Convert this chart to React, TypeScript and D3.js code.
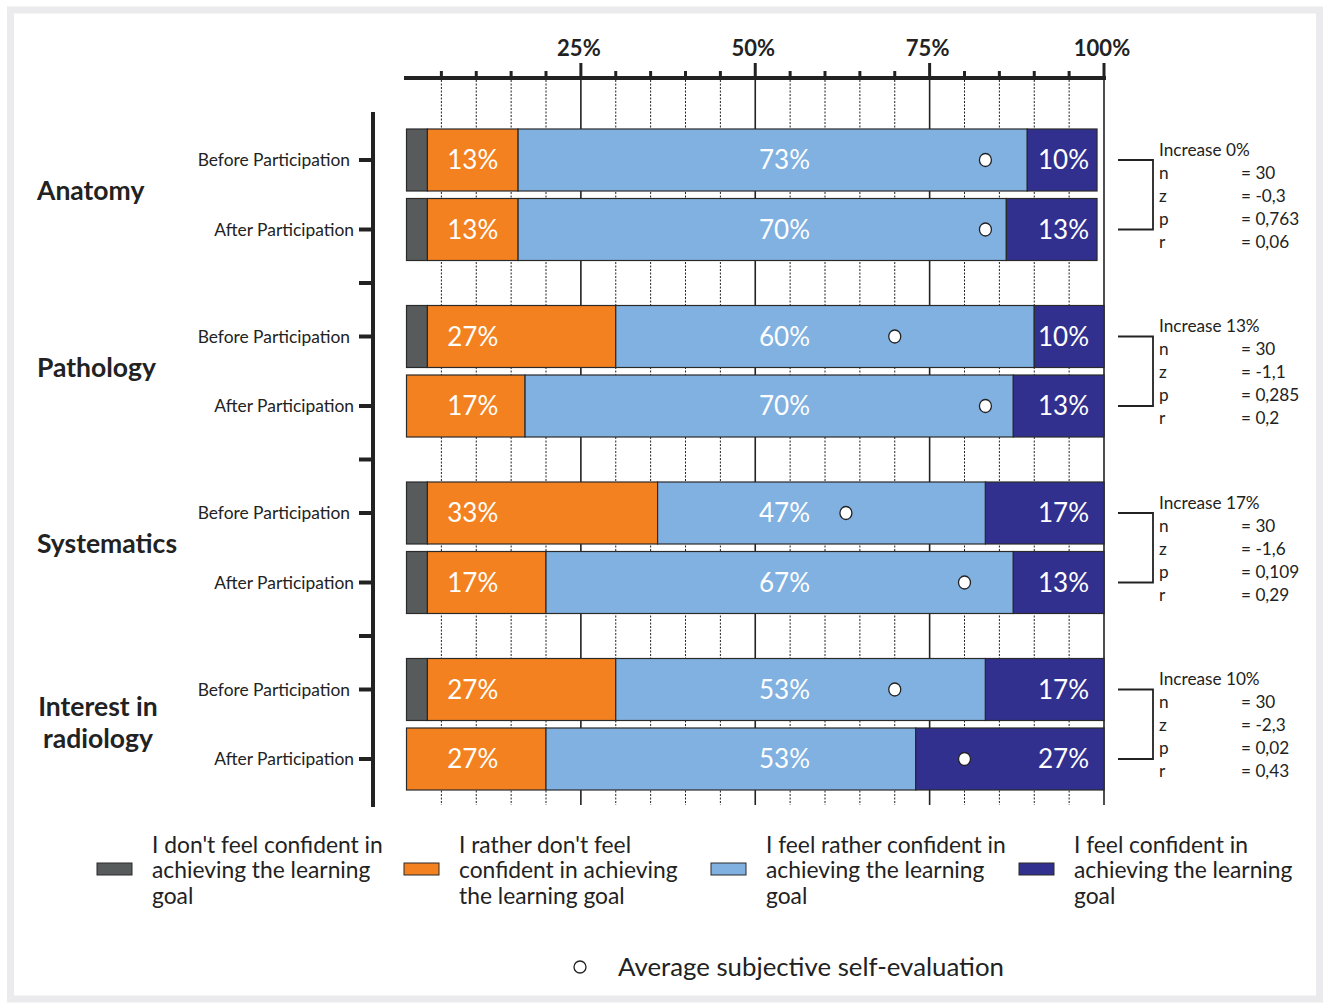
import React from "react";
import * as d3 from "d3";

const groups = ["Anatomy", "Pathology", "Systematics", "Interest in radiology"];
const groupLabelLines = [["Anatomy"], ["Pathology"], ["Systematics"], ["Interest in", "radiology"]];
const phases = ["Before Participation", "After Participation"];

// one entry per row: Anatomy before, Anatomy after, Pathology before, ...
const notConfident = [3, 3, 3, 0, 3, 3, 3, 0];
const ratherNot = [13, 13, 27, 17, 33, 17, 27, 20];
const ratherConfident = [73, 70, 60, 70, 47, 67, 53, 53];
const confident = [10, 13, 10, 13, 17, 13, 17, 27];

const ratherNotLabels = ["13%", "13%", "27%", "17%", "33%", "17%", "27%", "27%"];
const ratherConfidentLabels = ["73%", "70%", "60%", "70%", "47%", "67%", "53%", "53%"];
const confidentLabels = ["10%", "13%", "10%", "13%", "17%", "13%", "17%", "27%"];

const averages = [83, 83, 70, 83, 63, 80, 70, 80];

const increase = ["0%", "13%", "17%", "10%"];
const statN = ["30", "30", "30", "30"];
const statZ = ["-0,3", "-1,1", "-1,6", "-2,3"];
const statP = ["0,763", "0,285", "0,109", "0,02"];
const statR = ["0,06", "0,2", "0,29", "0,43"];

const tickValues = [25, 50, 75, 100];
const minorTicks = d3.range(5, 100, 5).filter((v) => v % 25 !== 0);

const legendItems = [
  ["I don't feel confident in", "achieving the learning", "goal"],
  ["I rather don't feel", "confident in achieving", "the learning goal"],
  ["I feel rather confident in", "achieving the learning", "goal"],
  ["I feel confident in", "achieving the learning", "goal"],
];

const colors = ["#575b5c", "#f48120", "#80b1e0", "#32308f"];
const FONT = "Lato, 'Open Sans', sans-serif";

export default function App() {
  const W = 1325, H = 1004;
  const x = d3.scaleLinear().domain([0, 100]).range([406.5, 1104]);
  const gy = d3.scaleBand<string>().domain(groups).range([106.5, 812.5]);
  const py = d3.scaleBand<string>().domain(phases).range([22.5, 154]).paddingInner(0.108);
  const series = [notConfident, ratherNot, ratherConfident, confident];

  const rows = groups.flatMap((g, gi) =>
    phases.map((p, pi) => ({ g, gi, p, pi, idx: gi * 2 + pi, y: (gy(g) as number) + (py(p) as number) }))
  );
  const bh = py.bandwidth();

  return (
    <svg width={W} height={H} style={{ position: "absolute", left: 0, top: 0, background: "#fff" }} fontFamily={FONT}>
      <rect x={10.5} y={10} width={1309} height={989} fill="none" stroke="#ebebed" strokeWidth={7} />

      {/* gridlines */}
      {minorTicks.map((v) => (
        <line key={"gm" + v} x1={x(v)} x2={x(v)} y1={80} y2={805} stroke="#222" strokeWidth={1} strokeDasharray="2,1.5" />
      ))}
      {tickValues.map((v) => (
        <line key={"gM" + v} x1={x(v)} x2={x(v)} y1={80} y2={805} stroke="#222" strokeWidth={1.6} />
      ))}

      {/* top axis */}
      <line x1={404} x2={x(100) + 2} y1={78} y2={78} stroke="#222" strokeWidth={4} />
      {minorTicks.map((v) => (
        <line key={"tm" + v} x1={x(v)} x2={x(v)} y1={78} y2={71} stroke="#222" strokeWidth={3} />
      ))}
      {tickValues.map((v) => (
        <g key={"tM" + v}>
          <line x1={x(v)} x2={x(v)} y1={78} y2={63} stroke="#222" strokeWidth={3} />
          <text x={x(v) - 2} y={56} textAnchor="middle" fontSize={22} fontWeight={700} fill="#222">{v}%</text>
        </g>
      ))}

      {/* bars */}
      {rows.map((r) => {
        let acc = 0;
        return (
          <g key={"row" + r.idx}>
            {series.map((s, si) => {
              const v = s[r.idx];
              const x0 = acc;
              acc += v;
              if (v <= 0) return null;
              return (
                <rect key={si} x={x(x0)} y={r.y} width={x(x0 + v) - x(x0)} height={bh}
                  fill={colors[si]} stroke="#2a2a2a" strokeWidth={1.2} />
              );
            })}
            <text x={x(9.5)} y={r.y + bh / 2} dy="0.36em" textAnchor="middle" fontSize={26} fill="#fff">{ratherNotLabels[r.idx]}</text>
            <text x={x(54.2)} y={r.y + bh / 2} dy="0.36em" textAnchor="middle" fontSize={26} fill="#fff">{ratherConfidentLabels[r.idx]}</text>
            <text x={x(94.2)} y={r.y + bh / 2} dy="0.36em" textAnchor="middle" fontSize={26} fill="#fff">{confidentLabels[r.idx]}</text>
            <ellipse cx={x(averages[r.idx])} cy={r.y + bh / 2} rx={6} ry={6.5} fill="#fff" stroke="#222" strokeWidth={1.3} />
            {/* left tick + phase label */}
            <line x1={359} x2={373} y1={r.y + bh / 2} y2={r.y + bh / 2} stroke="#222" strokeWidth={4} />
            <text x={r.pi === 0 ? 350 : 354} y={r.y + bh / 2} dy="0.35em" textAnchor="end" fontSize={17.4} fill="#222">{r.p}</text>
          </g>
        );
      })}

      {/* left axis */}
      <line x1={373} x2={373} y1={112} y2={807} stroke="#222" strokeWidth={4} />
      {groups.slice(1).map((g) => (
        <line key={"sep" + g} x1={359} x2={373} y1={gy(g) as number} y2={gy(g) as number} stroke="#222" strokeWidth={4} />
      ))}

      {/* group labels */}
      {groups.map((g, gi) => {
        const lines = groupLabelLines[gi];
        const cy = (gy(g) as number) + gy.bandwidth() / 2;
        return lines.length === 1 ? (
          <text key={g} x={37} y={cy - 4} dy="0.35em" fontSize={26.5} fontWeight={700} fill="#222">{lines[0]}</text>
        ) : (
          <text key={g} x={98} y={cy - 3} textAnchor="middle" fontSize={26.5} fontWeight={700} fill="#222">
            {lines.map((l, li) => (
              <tspan key={li} x={98} dy={li === 0 ? "-0.2em" : "1.2em"}>{l}</tspan>
            ))}
          </text>
        );
      })}

      {/* stats */}
      {groups.map((g, gi) => {
        const y1 = (gy(g) as number) + (py(phases[0]) as number) + bh / 2;
        const y2 = (gy(g) as number) + (py(phases[1]) as number) + bh / 2;
        const vals = [statN[gi], statZ[gi], statP[gi], statR[gi]];
        const keys = ["n", "z", "p", "r"];
        return (
          <g key={"st" + g} fontSize={17.2} fill="#222">
            <path d={`M1118,${y1}H1153V${y2}H1118`} fill="none" stroke="#222" strokeWidth={1.8} />
            <text x={1159} y={y1 - 10.5} dy="0.35em">Increase {increase[gi]}</text>
            {keys.map((k, ki) => (
              <g key={k}>
                <text x={1159} y={y1 + 12.5 + ki * 23} dy="0.35em">{k}</text>
                <text x={1241} y={y1 + 12.5 + ki * 23} dy="0.35em">= {vals[ki]}</text>
              </g>
            ))}
          </g>
        );
      })}

      {/* legend */}
      {legendItems.map((lines, li) => {
        const lx = [97, 404, 711, 1019][li];
        return (
          <g key={"lg" + li}>
            <rect x={lx} y={863} width={35} height={12} fill={colors[li]} stroke="#2a2a2a" strokeWidth={1} />
            {lines.map((l, i) => (
              <text key={i} x={lx + 55} y={845 + i * 25.5} dy="0.35em" fontSize={22.8} fill="#222">{l}</text>
            ))}
          </g>
        );
      })}
      <circle cx={580} cy={967} r={6} fill="#fff" stroke="#222" strokeWidth={1.3} />
      <text x={618} y={967} dy="0.35em" fontSize={25.8} fill="#222">Average subjective self-evaluation</text>
    </svg>
  );
}
